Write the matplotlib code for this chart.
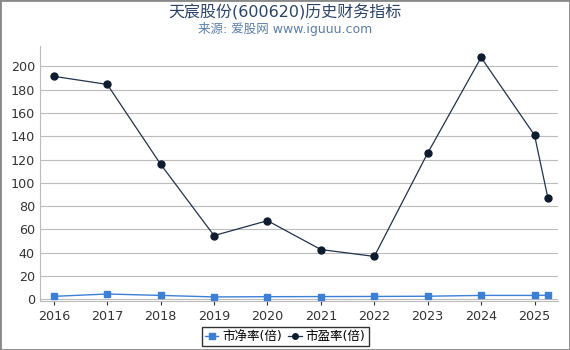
import matplotlib.pyplot as plt
from matplotlib.patches import Rectangle

plt.rcParams['font.family'] = ['DejaVu Sans', 'Noto Sans CJK SC']

# Data
years = [2016, 2017, 2018, 2019, 2020, 2021, 2022, 2023, 2024, 2025, 2025.25]
year_ticks = [2016, 2017, 2018, 2019, 2020, 2021, 2022, 2023, 2024, 2025]
pb = [2.5, 4.5, 3.3, 2.0, 2.2, 2.3, 2.4, 2.6, 3.3, 3.3, 3.5]
pe = [191.5, 184.6, 116.0, 54.7, 67.5, 42.7, 36.8, 125.6, 207.7, 141.0, 87.0]
y_ticks = [0, 20, 40, 60, 80, 100, 120, 140, 160, 180, 200]

fig = plt.figure(figsize=(5.7, 3.5), dpi=100)
ax = fig.add_axes([0.07, 0.14, 0.909, 0.73])

ax.plot(years, pb, color='#3b7fd6', marker='s', markersize=5,
        linewidth=1, label='市净率(倍)', zorder=3)
ax.plot(years, pe, color='#22324a', marker='o', markersize=5,
        markerfacecolor='#0e1c30', markeredgecolor='#0e1c30',
        linewidth=0.9, label='市盈率(倍)', zorder=3)

ax.set_xlim(2015.74, 2025.44)
ax.set_ylim(-1.5, 218)
ax.set_xticks(year_ticks)
ax.set_xticklabels([str(y) for y in year_ticks])
ax.set_yticks(y_ticks)
ax.tick_params(axis='both', labelsize=9.2, colors='#333333', length=3)
ax.tick_params(axis='y', length=0)
ax.grid(axis='y', color='#bbbbbb', linewidth=0.8)
ax.set_axisbelow(True)
for side in ['top', 'right']:
    ax.spines[side].set_visible(False)
for side in ['left', 'bottom']:
    ax.spines[side].set_color('#bbbbbb')

fig.text(0.5, 0.965, '天宸股份(600620)历史财务指标', ha='center', va='center',
         fontsize=11.5, color='#2b4466')
fig.text(0.5, 0.918, '来源: 爱股网 www.iguuu.com', ha='center', va='center',
         fontsize=9, color='#5b7ea8')

leg = fig.legend(loc='lower center', bbox_to_anchor=(0.5, 0.0), ncol=2,
                 fontsize=9, frameon=True, fancybox=False, handlelength=1.1,
                 handletextpad=0.3, columnspacing=0.5, borderpad=0.25,
                 borderaxespad=0.3, markerscale=0.8)
leg.get_frame().set_edgecolor('black')
leg.get_frame().set_linewidth(1)

# grey border round the figure
fig.patches.append(Rectangle((0, 0), 1, 1, transform=fig.transFigure,
                             fill=False, edgecolor='#888888', linewidth=2))

fig.savefig('out.png', dpi=100)
